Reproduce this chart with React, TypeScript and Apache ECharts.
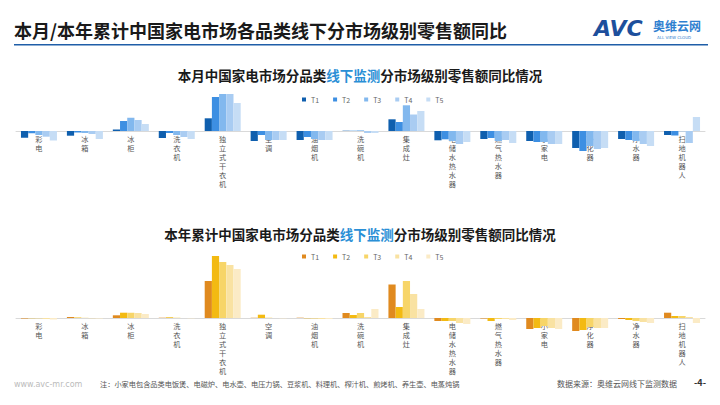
import React, { useEffect, useRef } from "react";
import * as echarts from "echarts";

const categories = ["彩电", "冰箱", "冰柜", "洗衣机", "独立式干衣机", "空调", "油烟机", "洗碗机", "集成灶", "电储水热水器", "燃气热水器", "小家电", "净化器", "净水器", "扫地机器人"];
const seriesNames = ["T1", "T2", "T3", "T4", "T5"];

// 本月 (monthly) YoY, estimated
const monthT1 = [-6.7, -4.7, 1.5, -7, 12.7, -10, -9, 0.3, 11.7, -9.3, -8, -10, -17, -8, -4];
const monthT2 = [-2.3, -1.5, 10, -2, 34, -4, -6, 0.3, 9, -8.3, -7, -11, -20, -9, -4.5];
const monthT3 = [-4, -2, 13.3, -4, 37, -9, -8, 0.7, 25.7, -10, -10, -11, -15, -10, -0.3];
const monthT4 = [-5.7, -3, 11, -6, 37, -9, -9, -2, 16.5, -13, -9, -13, -18, -13, -12];
const monthT5 = [-9.5, -8, 7, -8, 28, -9, -9, -2, 20, -11, -12, -13, -17, -15, 14];

// 本年累计 (YTD) YoY, estimated
const ytdT1 = [-0.5, 1, 2.7, 0.3, 37, 0.3, 0.3, 5, 33.5, -3, -0.5, -11, -13, -1, 5.3];
const ytdT2 = [-0.3, 0.5, 5.3, 0.7, 62, 3.3, -0.3, 3, 11, -3, -3, -10, -12, -2, 2];
const ytdT3 = [-0.3, 0.2, 5.3, 0.3, 56, 0.3, -0.5, 5, 37, -3, -1, -8, -9, -3, 2];
const ytdT4 = [-1, -0.3, 5, 0, 53, 0, -1, 1, 24, -5, -1, -10, -10, -4, 1];
const ytdT5 = [-1.5, -0.5, 4, -0.3, 49, -0.3, -1, 9, 9, -6, -2, -11, -10, -5, -5];

const monthData = [monthT1, monthT2, monthT3, monthT4, monthT5];
const ytdData = [ytdT1, ytdT2, ytdT3, ytdT4, ytdT5];

const blueColors = ["#0f5fae", "#3d8fe2", "#82b8ee", "#a9ccf2", "#c6ddf5"];
const yellowColors = ["#e08a1f", "#f3ba12", "#f7d568", "#f9e2a2", "#fbebc6"];

const FONT = "'Noto Sans CJK SC', 'Noto Sans', sans-serif";

export default function App() {
  const ref = useRef<HTMLDivElement>(null);
  useEffect(() => {
    if (!ref.current) return;
    const chart = echarts.init(ref.current, null, { renderer: "svg" });

    const xAxisCommon = {
      type: "category" as const,
      data: categories,
      axisLine: { onZero: false, lineStyle: { color: "#d9d9d9", width: 1 } },
      axisTick: { show: false },
      axisLabel: {
        interval: 0,
        margin: 3,
        fontSize: 7.2,
        lineHeight: 9,
        color: "#555",
        fontFamily: FONT,
        formatter: (v: string) => v.split("").join("\n"),
      },
    };
    const yAxisCommon = {
      type: "value" as const,
      show: false,
      splitLine: { show: false },
    };

    const series: any[] = [];
    seriesNames.forEach((n, i) => {
      series.push({
        name: n,
        type: "bar",
        xAxisIndex: 0,
        yAxisIndex: 0,
        data: monthData[i],
        barWidth: 7.2,
        barGap: "0%",
        itemStyle: { color: blueColors[i] },
      });
    });
    seriesNames.forEach((n, i) => {
      series.push({
        name: n + " ",
        type: "bar",
        xAxisIndex: 1,
        yAxisIndex: 1,
        data: ytdData[i],
        barWidth: 7.2,
        barGap: "0%",
        itemStyle: { color: yellowColors[i] },
      });
    });

    const legendCommon = {
      itemWidth: 4,
      itemHeight: 4,
      itemGap: 14,
      icon: "rect",
      textStyle: { fontSize: 7, color: "#666", fontFamily: FONT },
    };

    chart.setOption({
      animation: false,
      textStyle: { fontFamily: FONT },
      grid: [
        { left: 16, right: 15, top: 86, height: 70 },
        { left: 16, right: 15, top: 253, height: 85 },
      ],
      xAxis: [
        { ...xAxisCommon, gridIndex: 0, offset: -25 },
        { ...xAxisCommon, gridIndex: 1, offset: -20 },
      ],
      yAxis: [
        { ...yAxisCommon, gridIndex: 0, min: -25, max: 45 },
        { ...yAxisCommon, gridIndex: 1, min: -20, max: 65 },
      ],
      legend: [
        { ...legendCommon, left: 297, top: 91, data: seriesNames },
        { ...legendCommon, left: 297, top: 248, data: seriesNames.map((n) => n + " "), formatter: (n: string) => n.trim() },
      ],
      series,
      graphic: [
        {
          type: "text",
          left: 14,
          top: 21,
          style: { text: "本月/本年累计中国家电市场各品类线下分市场级别零售额同比", fontSize: 18, fontWeight: "bold", fill: "#1a1a1a", fontFamily: FONT },
        },
        { type: "rect", shape: { x: 14, y: 44, width: 694, height: 1.5 }, style: { fill: "#1f5ea8" } },
        { type: "text", left: 594, top: 17, style: { text: "AVC", fontSize: 22, fontWeight: "bold", fontStyle: "italic", fill: "#1d4f9c", fontFamily: "DejaVu Sans" } },
        { type: "text", left: 653, top: 19, style: { text: "奥维云网", fontSize: 12, fontWeight: "bold", fill: "#2f80d0", fontFamily: FONT } },
        { type: "text", left: 657, top: 35, style: { text: "ALL VIEW CLOUD", fontSize: 4, fill: "#2f80d0", fontFamily: "DejaVu Sans" } },
        {
          type: "text",
          left: "center",
          top: 68,
          style: {
            text: "{a|本月中国家电市场分品类}{b|线下监测}{a|分市场级别零售额同比情况}",
            rich: {
              a: { fontSize: 13.5, fontWeight: "bold", fill: "#1a1a1a", fontFamily: FONT },
              b: { fontSize: 13.5, fontWeight: "bold", fill: "#2a8fd6", fontFamily: FONT },
            },
          },
        },
        {
          type: "text",
          left: "center",
          top: 227,
          style: {
            text: "{a|本年累计中国家电市场分品类}{b|线下监测}{a|分市场级别零售额同比情况}",
            rich: {
              a: { fontSize: 13.5, fontWeight: "bold", fill: "#1a1a1a", fontFamily: FONT },
              b: { fontSize: 13.5, fontWeight: "bold", fill: "#2a8fd6", fontFamily: FONT },
            },
          },
        },
        { type: "text", left: 14, top: 380, style: { text: "www.avc-mr.com", fontSize: 8, fill: "#bbb", fontFamily: "DejaVu Sans" } },
        {
          type: "text",
          left: 100,
          top: 380,
          style: { text: "注：小家电包含品类电饭煲、电磁炉、电水壶、电压力锅、豆浆机、料理机、榨汁机、煎烤机、养生壶、电蒸炖锅", fontSize: 7.2, fill: "#555", fontFamily: FONT },
        },
        { type: "text", left: 557, top: 379, style: { text: "数据来源：奥维云网线下监测数据", fontSize: 8, fill: "#555", fontFamily: FONT } },
        { type: "text", left: 694, top: 378, style: { text: "-4-", fontSize: 9, fontWeight: "bold", fill: "#333", fontFamily: FONT } },
      ],
    });
    return () => chart.dispose();
  }, []);
  return <div ref={ref} style={{ position: "fixed", left: 0, top: 0, width: 720, height: 405, background: "#fff" }} />;
}
